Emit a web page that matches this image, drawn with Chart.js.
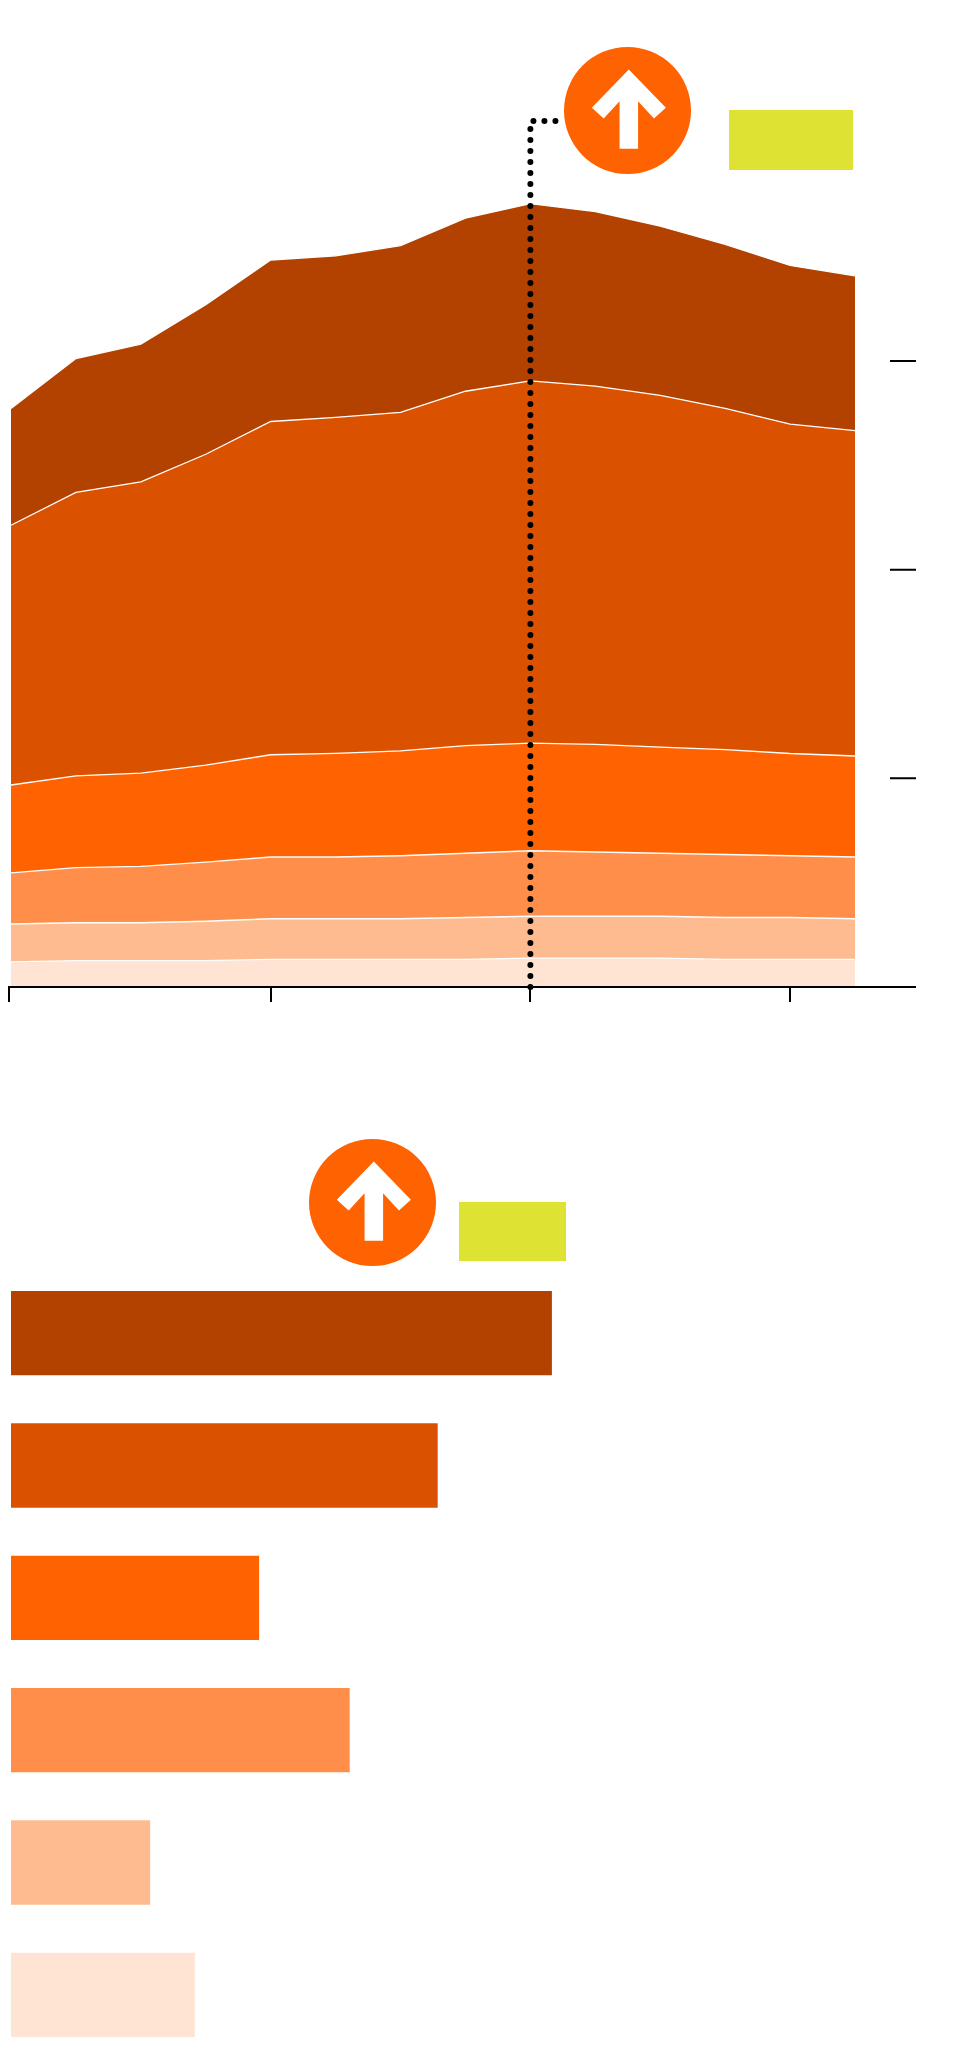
<!DOCTYPE html>
<html>
<head>
<meta charset="utf-8">
<script src="https://cdn.jsdelivr.net/npm/chart.js@4"></script>
<style>
  body { margin: 0; background: #fff; width: 980px; height: 2058px; position: relative; overflow: hidden; }
  .box { position: absolute; }
  .flag { position: absolute; background: #DDE233; }
  .icon { position: absolute; }
</style>
</head>
<body>
<div class="box" style="left:0;top:0;width:980px;height:1030px;"><canvas id="areaChart"></canvas></div>
<div class="box" style="left:0;top:1267px;width:980px;height:794px;"><canvas id="barChart"></canvas></div>

<svg class="icon" style="left:564px;top:47px" width="127" height="127" viewBox="0 0 96 96">
  <circle cx="48" cy="48" r="48" fill="#FF6200"/>
  <polygon points="49,17 77,46 68,54 56,41 56,77 42,77 42,41 30,54 21,46" fill="#fff"/>
</svg>
<div class="flag" style="left:729px;top:110px;width:124px;height:60px;"></div>

<svg class="icon" style="left:309px;top:1139px" width="127" height="127" viewBox="0 0 96 96">
  <circle cx="48" cy="48" r="48" fill="#FF6200"/>
  <polygon points="49,17 77,46 68,54 56,41 56,77 42,77 42,41 30,54 21,46" fill="#fff"/>
</svg>
<div class="flag" style="left:459px;top:1202px;width:107px;height:59px;"></div>

<script>
// Area chart data (14 periods, stacked layers bottom to top)
const periods = ['0','1','2','3','4','5','6','7','8','9','10','11','12','13'];
const layer6 = [12, 12.6, 12.6, 12.6, 13.2, 13.2, 13.2, 13.2, 13.8, 13.8, 13.8, 13.2, 13.2, 13.2];
const layer5 = [18.2, 18.2, 18.2, 18.9, 19.5, 19.5, 19.5, 20.1, 20.1, 20.1, 20.1, 20.1, 20.1, 19.5];
const layer4 = [24.5, 26.4, 27, 28.3, 29.6, 29.6, 30.2, 30.8, 31.4, 30.8, 30.2, 30.2, 29.6, 29.6];
const layer3 = [42.1, 44, 44.7, 46.5, 49, 49.7, 50.3, 51.6, 51.6, 51.6, 50.9, 50.3, 49, 48.4];
const layer2 = [124.5, 135.8, 139.6, 149, 159.7, 161, 162.2, 169.8, 173.6, 171.7, 168.5, 163.5, 157.8, 155.9];
const layer1 = [56, 64.2, 66, 71.7, 77.4, 77.4, 79.9, 83, 84.9, 83.6, 81.1, 78.6, 76.1, 74.2];
const yTicks = [100, 200, 300];
const xTicks = [0, 4, 8, 12];
const markerIndex = 8;
const markerValue = 415;

// Bar chart data
const barCategories = ['a', 'b', 'c', 'd', 'e', 'f'];
const barValues = [412, 325, 189, 258, 106, 140];

const colors = ['#B34200', '#DA5200', '#FF6200', '#FF8E4A', '#FFBB90', '#FFE3D3'];

function areaSet(data, color) {
    return { data: data, backgroundColor: color, borderColor: '#fff', borderWidth: 1.3,
             fill: true, pointRadius: 0, tension: 0 };
}

// Draws the axis line, tick marks and dotted marker line
const axisDecor = {
    id: 'axisDecor',
    afterDatasetsDraw(chart) {
        const { ctx, scales: { x, y }, chartArea } = chart;
        const base = y.getPixelForValue(0);
        ctx.save();
        ctx.strokeStyle = '#000';
        ctx.lineWidth = 2;
        ctx.beginPath();
        ctx.moveTo(chartArea.left - 3, base);
        ctx.lineTo(chartArea.right + 61, base);
        xTicks.forEach(i => {
            const px = Math.round(x.getPixelForValue(i)) - (i === 0 ? 2 : 0);
            ctx.moveTo(px, base);
            ctx.lineTo(px, base + 15);
        });
        yTicks.forEach(v => {
            const py = y.getPixelForValue(v);
            ctx.moveTo(chartArea.right + 35, py);
            ctx.lineTo(chartArea.right + 61, py);
        });
        ctx.stroke();

        // dotted marker
        const mx = x.getPixelForValue(markerIndex);
        const my = y.getPixelForValue(markerValue);
        ctx.lineWidth = 6;
        ctx.lineCap = 'round';
        ctx.setLineDash([0, 11]);
        ctx.beginPath();
        ctx.moveTo(mx, base);
        ctx.lineTo(mx, my);
        ctx.lineTo(mx + 34, my);
        ctx.stroke();
        ctx.restore();
    }
};

new Chart(document.getElementById('areaChart'), {
    type: 'line',
    data: {
        labels: periods,
        datasets: [
            areaSet(layer6, colors[5]),
            areaSet(layer5, colors[4]),
            areaSet(layer4, colors[3]),
            areaSet(layer3, colors[2]),
            areaSet(layer2, colors[1]),
            areaSet(layer1, colors[0])
        ]
    },
    options: {
        responsive: true,
        maintainAspectRatio: false,
        animation: false,
        layout: { padding: { left: 11, right: 125, top: 48, bottom: 43 } },
        scales: {
            x: { display: false, offset: false },
            y: { display: false, stacked: true, min: 0, max: 450 }
        },
        plugins: { legend: { display: false }, tooltip: { enabled: false } }
    },
    plugins: [axisDecor]
});

new Chart(document.getElementById('barChart'), {
    type: 'bar',
    data: {
        labels: barCategories,
        datasets: [{ data: barValues, backgroundColor: colors,
                     barPercentage: 0.637, categoryPercentage: 1 }]
    },
    options: {
        indexAxis: 'y',
        responsive: true,
        maintainAspectRatio: false,
        animation: false,
        layout: { padding: { left: 11, right: 50, top: 0, bottom: 0 } },
        scales: {
            x: { display: false, min: 0, max: 700 },
            y: { display: false }
        },
        plugins: { legend: { display: false }, tooltip: { enabled: false } }
    }
});
</script>
</body>
</html>
